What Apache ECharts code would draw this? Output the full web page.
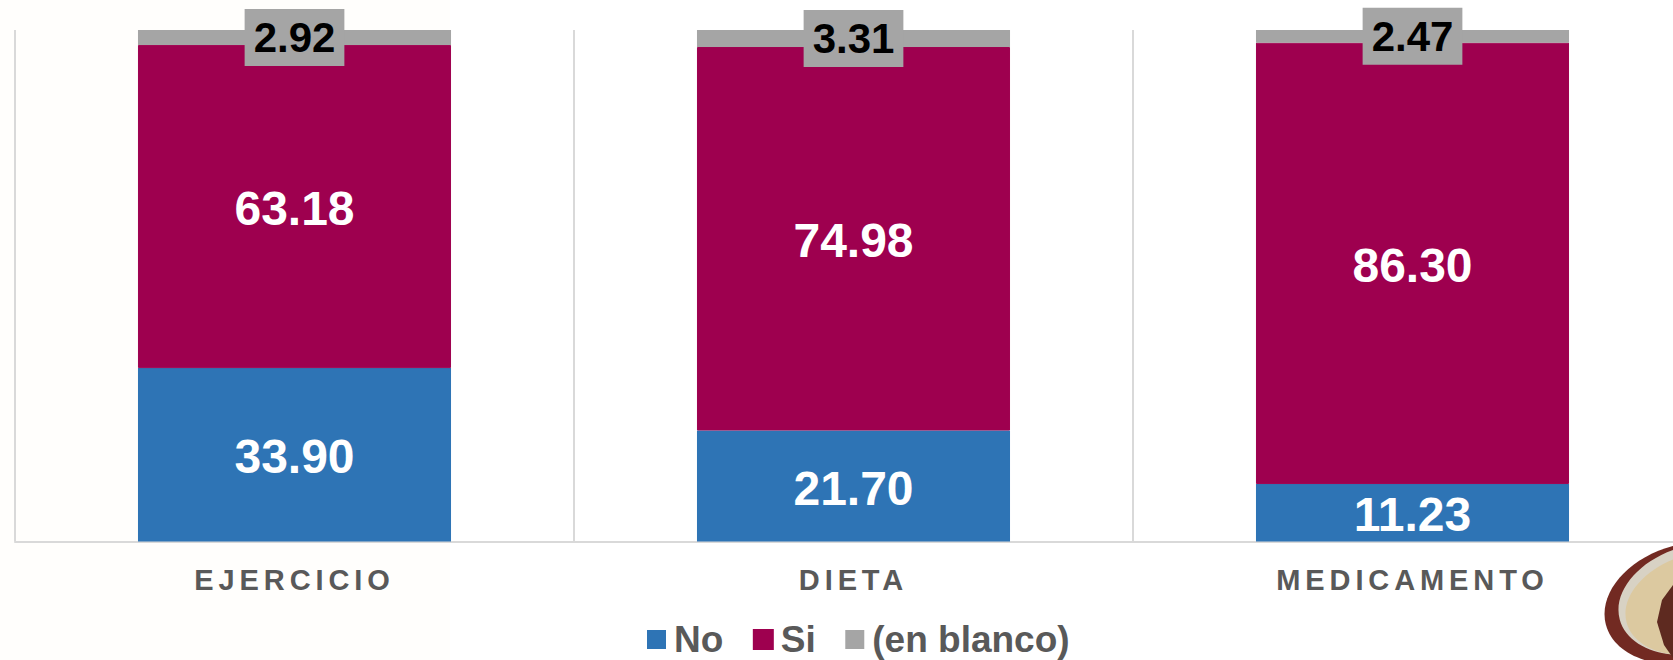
<!DOCTYPE html>
<html><head><meta charset="utf-8">
<style>
html,body{margin:0;padding:0;background:#fff}
#c{width:1673px;height:660px}
#c text[style*="29px"]{letter-spacing:4.9px}
</style>
<script src="https://cdn.jsdelivr.net/npm/echarts@6/dist/echarts.min.js"></script>
</head><body><div id="c"></div>
<script>
const categories = ['EJERCICIO','DIETA','MEDICAMENTO'];
const no = [33.90,21.70,11.23];
const si = [63.18,74.98,86.30];
const blanco = [2.92,3.31,2.47];
const seriesNames = ['No','Si','(en blanco)'];
const colors = ['#2E74B5','#9E004F','#A5A5A5'];
const font = '"Liberation Sans", Arial, sans-serif';
const fmt = p => p.value.toFixed(2);
const coin = (cx, cy, rx, ry, fill) => ({type:'ellipse',x:cx,y:cy,rotation:0.26,z:-1,silent:true,
  shape:{cx:0,cy:0,rx,ry},style:{fill}});
const chart = echarts.init(document.getElementById('c'), null, {renderer:'svg'});
chart.setOption({
  animation:false,
  backgroundColor:'#fff',
  graphic:[
    {type:'rect',z:-2,silent:true,shape:{x:0,y:0,width:450,height:660},style:{fill:'#FFFEFC'}},
    coin(1688,603,85,59,'#722A22'),
    coin(1697,599,80,54,'#D8D2C4'),
    coin(1700,603,76,50,'#DCC9A0'),
    {type:'polygon',z:-1,silent:true,shape:{points:[[1673,585],[1662,600],[1657,622],[1664,645],[1673,658]]},style:{fill:'#5E2A20'}}
  ],
  grid:{left:15,top:30,width:1677,height:511.5,outerBoundsMode:'none'},
  legend:{
    left:647,top:621,itemWidth:19,itemHeight:19,itemGap:29.5,padding:0,
    icon:'rect',
    data:seriesNames,
    textStyle:{fontFamily:font,fontWeight:'bold',fontSize:37,lineHeight:30,color:'#595959',padding:[0,0,0,3]}
  },
  xAxis:{
    type:'category',data:categories,boundaryGap:true,
    axisTick:{show:false},
    axisLine:{show:true,lineStyle:{color:'#D9D9D9',width:2}},
    splitLine:{show:true,lineStyle:{color:'#D9D9D9',width:2}},
    axisLabel:{margin:24,fontFamily:font,fontWeight:'bold',fontSize:29,color:'#595959',interval:0}
  },
  yAxis:{type:'value',min:0,max:100,show:false,splitLine:{show:false}},
  series:[
    {name:seriesNames[0],type:'bar',stack:'t',data:no,barWidth:'56%',itemStyle:{color:colors[0]},
     label:{show:true,position:'inside',offset:[0,2],formatter:fmt,fontFamily:font,fontWeight:'bold',fontSize:48,color:'#fff'}},
    {name:seriesNames[1],type:'bar',stack:'t',data:si,barWidth:'56%',itemStyle:{color:colors[1],borderColor:colors[1],borderWidth:1},
     label:{show:true,position:'inside',offset:[0,2],formatter:fmt,fontFamily:font,fontWeight:'bold',fontSize:48,color:'#fff'}},
    {name:seriesNames[2],type:'bar',stack:'t',data:blanco,barWidth:'56%',itemStyle:{color:colors[2]},
     label:{show:true,position:'inside',formatter:fmt,fontFamily:font,fontWeight:'bold',fontSize:42,color:'#000',
            backgroundColor:colors[2],padding:[8,9,7,9]}}
  ]
});
</script></body></html>
